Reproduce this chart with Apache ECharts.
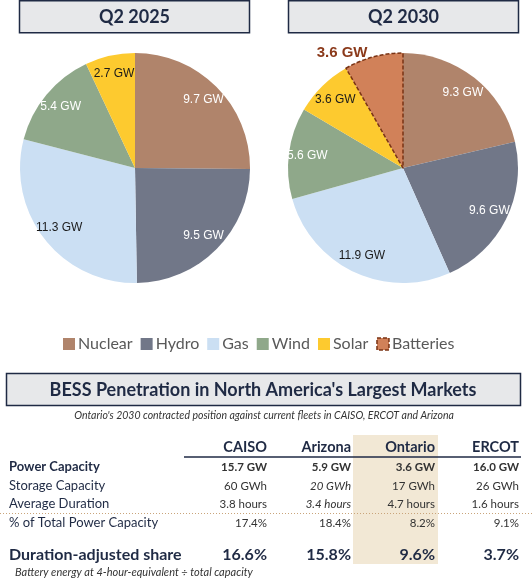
<!DOCTYPE html>
<html>
<head>
<meta charset="utf-8">
<script src="https://cdn.jsdelivr.net/npm/echarts@6/dist/echarts.min.js"></script>
<style>
  html, body { margin: 0; padding: 0; background: #fff; }
  #chart { width: 532px; height: 580px; }
</style>
</head>
<body>
<div id="chart"></div>
<script>
// supply mix by source, GW
const sources = ['Nuclear', 'Hydro', 'Gas', 'Wind', 'Solar', 'Batteries']
const periods = ['Q2 2025', 'Q2 2030']
const fleet2025 = [9.7, 9.5, 11.3, 5.4, 2.7]
const fleet2030 = [9.3, 9.6, 11.9, 5.6, 3.6, 3.6]

// BESS table
const markets = ['CAISO', 'Arizona', 'Ontario', 'ERCOT']
const powerGW = [15.7, 5.9, 3.6, 16.0]
const storageGWh = [60, 20, 17, 26]
const durationHours = [3.8, 3.4, 4.7, 1.6]
const shareOfCapacity = [17.4, 18.4, 8.2, 9.1]
const durationAdjShare = [16.6, 15.8, 9.6, 3.7]
const estimated = [false, true, false, false]

const NAVY = '#1f2a44'
const COLORS = {
  Nuclear: '#b0846b', Hydro: '#717788', Gas: '#cbdff3',
  Wind: '#8fa88a', Solar: '#fdca2f', Batteries: '#d18159'
}
const LABEL_COLORS = {
  Nuclear: '#fff', Hydro: '#fff', Gas: '#1a1a1a',
  Wind: '#fff', Solar: '#1a1a1a', Batteries: '#fff'
}
const BATTERY_BORDER = '#7a3314'
const R = 115
const centers = [[135, 168], [403, 168]]

function itemStyleFor (name) {
  if (name === 'Batteries') {
    return { color: COLORS[name], borderColor: BATTERY_BORDER, borderWidth: 1.5, borderType: [4, 2] }
  }
  return { color: COLORS[name], borderWidth: 0 }
}

function mainSeries (values, center) {
  return {
    type: 'pie',
    center: center,
    radius: [0, R],
    startAngle: 90,
    avoidLabelOverlap: false,
    label: { show: false },
    labelLine: { show: false, length: 4, length2: 0 },
    emphasis: { scale: false },
    data: values.map((v, i) => {
      const name = sources[i]
      const d = { name: name, value: v, itemStyle: itemStyleFor(name) }
      if (name === 'Batteries') {
        d.label = {
          show: true, position: 'outside', formatter: '{c} GW',
          color: '#8b3a1b', fontWeight: 'bold', fontSize: 15, fontFamily: 'Liberation Sans'
        }
      }
      return d
    })
  }
}

// transparent twin so the inside labels sit out near the rim
function labelSeries (values, center) {
  return {
    type: 'pie',
    center: center,
    radius: [72, R],
    startAngle: 90,
    silent: true,
    avoidLabelOverlap: false,
    itemStyle: { color: 'rgba(0,0,0,0)' },
    labelLine: { show: false },
    label: {
      show: true, position: 'inside',
      formatter: p => p.value.toFixed(1) + ' GW',
      fontSize: 12, fontFamily: 'Liberation Sans'
    },
    data: values.map((v, i) => {
      const name = sources[i]
      return {
        name: name, value: v,
        label: { show: name !== 'Batteries', color: LABEL_COLORS[name] }
      }
    })
  }
}

const graphic = []

// pie title boxes
periods.forEach((p, i) => {
  const x = i === 0 ? 19.5 : 288.5
  graphic.push({
    type: 'rect', shape: { x: x, y: 0.75, width: 230, height: 32 },
    style: { fill: '#e7e8ea', stroke: NAVY, lineWidth: 1.5 }
  })
  graphic.push({
    type: 'text',
    style: { x: x + 115, y: 17.5, text: p, fill: NAVY, font: 'bold 18px Lato', align: 'center', verticalAlign: 'middle' }
  })
})

// table header box
graphic.push({
  type: 'rect', shape: { x: 6.5, y: 373.5, width: 514, height: 32 },
  style: { fill: '#e7e8ea', stroke: NAVY, lineWidth: 1.5 }
})
graphic.push({
  type: 'text',
  style: { x: 263, y: 390, text: "BESS Penetration in North America's Largest Markets", fill: NAVY, font: 'bold 18px Lato', align: 'center', verticalAlign: 'middle' }
})
graphic.push({
  type: 'text',
  style: { x: 264, y: 416, text: "Ontario's 2030 contracted position against current fleets in CAISO, ERCOT and Arizona", fill: '#333', font: 'italic 10.5px Lato', align: 'center', verticalAlign: 'middle' }
})

const colRight = [267, 351, 435, 519]
const hlIdx = markets.indexOf('Ontario')
graphic.push({
  type: 'rect', shape: { x: colRight[hlIdx] - 82, y: 435, width: 85, height: 129 },
  style: { fill: '#f2e8d5' }
})
graphic.push({
  type: 'line', shape: { x1: 184, y1: 457, x2: 521, y2: 457 },
  style: { stroke: NAVY, lineWidth: 1.5 }
})
graphic.push({
  type: 'line', shape: { x1: 0, y1: 513.5, x2: 532, y2: 513.5 },
  style: { stroke: '#c9a47a', lineWidth: 1, lineDash: [1, 2] }
})

markets.forEach((m, i) => {
  graphic.push({
    type: 'text',
    style: { x: colRight[i], y: 447, text: m, fill: NAVY, font: 'bold 14.5px Lato', align: 'right', verticalAlign: 'middle' }
  })
})

const rows = [
  { label: 'Power Capacity', y: 467, labelFont: 'bold 13px Lato', valueFont: 'bold 11.5px Lato', labelColor: NAVY,
    values: powerGW.map(v => v.toFixed(1) + ' GW') },
  { label: 'Storage Capacity', y: 486, labelFont: '13px Lato', valueFont: '11.5px Lato', labelColor: NAVY, italicEstimates: true,
    values: storageGWh.map(v => v + ' GWh') },
  { label: 'Average Duration', y: 504, labelFont: '13px Lato', valueFont: '11.5px Lato', labelColor: NAVY, italicEstimates: true,
    values: durationHours.map(v => v.toFixed(1) + ' hours') },
  { label: '% of Total Power Capacity', y: 523, labelFont: '13px Lato', valueFont: '11.5px Lato', labelColor: NAVY,
    values: shareOfCapacity.map(v => v.toFixed(1) + '%') },
  { label: 'Duration-adjusted share', y: 555, labelFont: 'bold 16px Lato', valueFont: 'bold 16px Lato', labelColor: NAVY, valueColor: NAVY,
    values: durationAdjShare.map(v => v.toFixed(1) + '%') }
]

rows.forEach(r => {
  graphic.push({
    type: 'text',
    style: { x: 9, y: r.y, text: r.label, fill: r.labelColor, font: r.labelFont, verticalAlign: 'middle' }
  })
  r.values.forEach((v, i) => {
    const font = r.italicEstimates && estimated[i] ? 'italic ' + r.valueFont : r.valueFont
    graphic.push({
      type: 'text',
      style: { x: colRight[i], y: r.y, text: v, fill: r.valueColor || '#333', font: font, align: 'right', verticalAlign: 'middle' }
    })
  })
})

graphic.push({
  type: 'text',
  style: { x: 15, y: 572, text: 'Battery energy at 4-hour-equivalent \u00f7 total capacity', fill: '#333', font: 'italic 11px Lato', verticalAlign: 'middle' }
})

const chart = echarts.init(document.getElementById('chart'), null, { renderer: 'canvas' })
chart.setOption({
  animation: false,
  legend: {
    left: 58,
    top: 331,
    icon: 'rect',
    itemWidth: 12,
    itemHeight: 12,
    itemGap: 8,
    textStyle: { fontSize: 16, color: '#595959', fontFamily: 'Lato', padding: [0, 0, 0, -2] },
    data: sources.map(s => ({ name: s, itemStyle: itemStyleFor(s) }))
  },
  series: [
    mainSeries(fleet2025, centers[0]),
    mainSeries(fleet2030, centers[1]),
    labelSeries(fleet2025, centers[0]),
    labelSeries(fleet2030, centers[1])
  ],
  graphic: graphic
})
</script>
</body>
</html>
